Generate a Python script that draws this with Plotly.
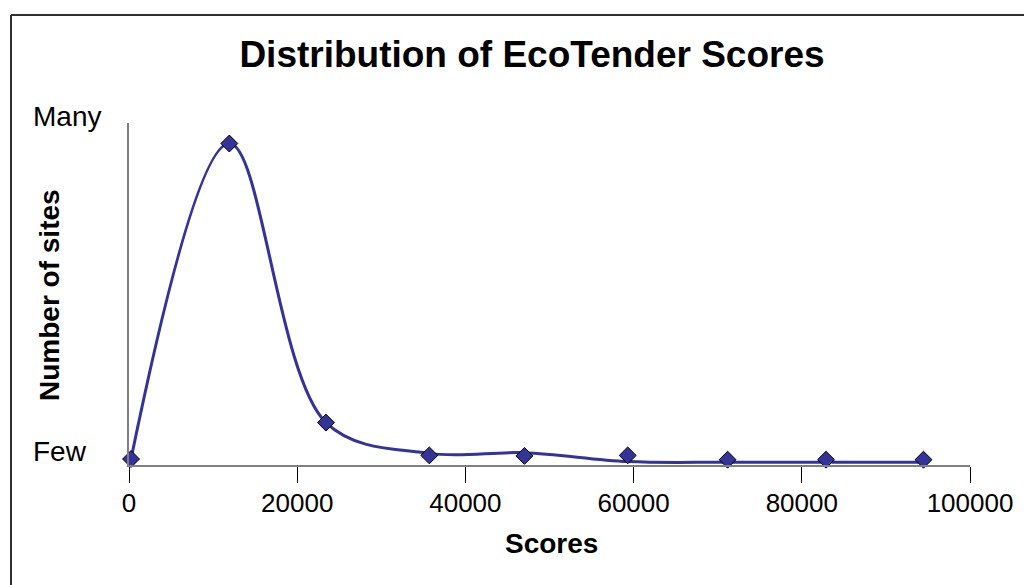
import plotly.graph_objects as go

# Data
scores = [240, 11930, 23420, 35710, 47020, 59300, 71180, 82880, 94470]
sites_markers = [1.75, 94.0, 12.4, 2.8, 2.66, 2.8, 1.55, 1.55, 1.55]
sites_curve = [1.75, 94.0, 12.4, 3.4, 3.6, 1.0, 0.8, 0.8, 0.8]
x_ticks = [0, 20000, 40000, 60000, 80000, 100000]
y_labels = ["Few", "Many"]

# The page body has an 8px margin, so the figure is drawn 8px right/down.
OFF = 8
W, H = 1032 - OFF, 585 - OFF
ML, MR, MT, MB = 129 - OFF, 62, 123 - OFF, 120
PW = W - ML - MR
PH = H - MT - MB


def px_x(p):
    """screen x pixel -> paper x"""
    return (p - OFF - ML) / PW


def px_y(p):
    """screen y pixel -> paper y"""
    return (H - MB - (p - OFF)) / PH


FONT = "Liberation Sans, Arial, sans-serif"
NAVY = "#333399"

fig = go.Figure()
fig.add_trace(go.Scatter(
    x=scores, y=sites_curve, mode="lines",
    line=dict(color=NAVY, width=3, shape="spline", smoothing=1),
    cliponaxis=False, showlegend=False, hoverinfo="skip",
))
fig.add_trace(go.Scatter(
    x=scores, y=sites_markers, mode="markers",
    marker=dict(symbol="diamond", size=13, color=NAVY,
                line=dict(color="black", width=1)),
    cliponaxis=False, showlegend=False,
))

fig.update_layout(
    width=W, height=H,
    margin=dict(l=ML, r=MR, t=MT, b=MB),
    paper_bgcolor="white", plot_bgcolor="white",
    font=dict(family=FONT, size=26, color="black"),
    title=dict(text="<b>Distribution of EcoTender Scores</b>",
               font=dict(family=FONT, size=37, color="black"),
               xref="container", x=(532 - OFF) / W, xanchor="center",
               yref="container", y=1 - (54 - OFF) / H, yanchor="middle"),
    xaxis=dict(range=[0, 100000], tickvals=x_ticks,
               ticktext=[str(v) for v in x_ticks],
               showgrid=False, zeroline=False,
               showline=True, linecolor="#808080", linewidth=2,
               ticks="outside", ticklen=16, tickwidth=1, tickcolor="black",
               ticklabelstandoff=-2,
               tickfont=dict(family=FONT, size=26, color="black"),
               fixedrange=True),
    yaxis=dict(range=[0, 100], showgrid=False, zeroline=False,
               showline=True, linecolor="#808080", linewidth=2,
               showticklabels=False, ticks="", fixedrange=True),
)

# Y-axis category labels (left aligned, as in reference)
fig.add_annotation(text=y_labels[1], xref="paper", yref="paper",
                   x=px_x(31), y=px_y(117), xanchor="left", yanchor="middle",
                   showarrow=False, font=dict(family=FONT, size=28))
fig.add_annotation(text=y_labels[0], xref="paper", yref="paper",
                   x=px_x(31), y=px_y(451), xanchor="left", yanchor="middle",
                   showarrow=False, font=dict(family=FONT, size=28))

# Axis titles
fig.add_annotation(text="<b>Number of sites</b>", xref="paper", yref="paper",
                   x=px_x(49), y=px_y(295), xanchor="center", yanchor="middle",
                   textangle=-90, showarrow=False,
                   font=dict(family=FONT, size=28))
fig.add_annotation(text="<b>Scores</b>", xref="paper", yref="paper",
                   x=px_x(551), y=px_y(543), xanchor="center", yanchor="middle",
                   showarrow=False, font=dict(family=FONT, size=28))

# Chart frame (top and left border)
fig.add_shape(type="line", xref="paper", yref="paper",
              x0=px_x(11), y0=px_y(15), x1=px_x(1040), y1=px_y(15),
              line=dict(color="#303030", width=2))
fig.add_shape(type="line", xref="paper", yref="paper",
              x0=px_x(11), y0=px_y(15), x1=px_x(11), y1=px_y(600),
              line=dict(color="#303030", width=2))

fig.write_html("out.html")
